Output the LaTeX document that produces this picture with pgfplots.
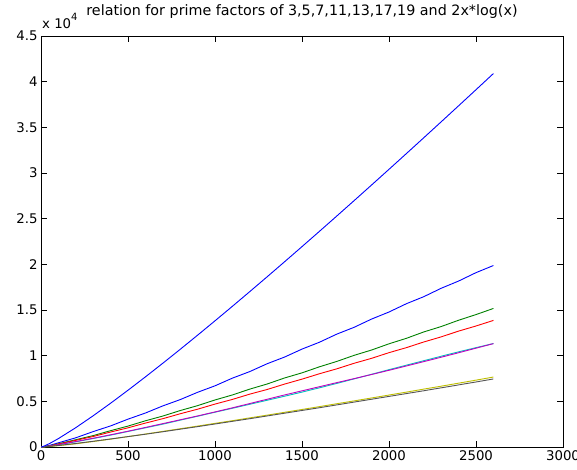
\documentclass[border=0pt]{standalone}
\usepackage{pgfplots}
\pgfplotsset{compat=1.18}
\usepackage{fontspec}
\setmainfont{DejaVu Sans}

% MATLAB default line colours
\definecolor{mblue}{rgb}{0,0,1}
\definecolor{mgreen}{rgb}{0,0.5,0}
\definecolor{mred}{rgb}{1,0,0}
\definecolor{mcyan}{rgb}{0,0.75,0.75}
\definecolor{mmag}{rgb}{0.75,0,0.75}
\definecolor{myel}{rgb}{0.75,0.75,0}
\definecolor{mblk}{rgb}{0.33,0.33,0.33}

\newcommand{\tickfont}{\fontsize{13.3}{15}\selectfont}

\begin{document}
\begin{tikzpicture}
\path[use as bounding box] (-41pt,-22.6pt) rectangle (536pt,447pt);
\begin{axis}[
  scale only axis,
  width=522pt, height=411pt,
  xmin=0, xmax=3000, ymin=0, ymax=45000,
  scaled x ticks=false, scaled y ticks=false,
  xtick={0,500,1000,1500,2000,2500,3000},
  xticklabels={0,500,1000,1500,2000,2500,3000},
  ytick={0,5000,10000,15000,20000,25000,30000,35000,40000,45000},
  yticklabels={0,0.5,1,1.5,2,2.5,3,3.5,4,4.5},
  tick align=inside,
  major tick length=6pt,
  tick style={black, line width=0.6pt},
  axis line style={black, line width=0.8pt},
  ticklabel style={font=\tickfont},
  title={relation for prime factors of 3,5,7,11,13,17,19 and 2x*log(x)},
  title style={font=\fontsize{14.3}{16}\selectfont, at={(0.5,1)}, anchor=base, yshift=14pt},
  every axis plot/.append style={line width=0.9pt},
]
% n = 3
\addplot[mblue] coordinates {(0,0)(50,180)(100,460)(200,1010)(300,1690)(400,2310)(500,3050)(600,3720)(700,4500)(800,5190)(900,5990)(1000,6700)(1100,7540)(1200,8260)(1300,9120)(1400,9850)(1500,10720)(1600,11470)(1700,12360)(1800,13110)(1900,14010)(2000,14780)(2100,15690)(2200,16460)(2300,17380)(2400,18170)(2500,19090)(2600,19870)};
% n = 5
\addplot[mgreen] coordinates {(0,0)(50,130)(100,350)(200,800)(300,1250)(400,1790)(500,2290)(600,2870)(700,3390)(800,3990)(900,4530)(1000,5150)(1100,5700)(1200,6340)(1300,6900)(1400,7560)(1500,8120)(1600,8780)(1700,9370)(1800,10040)(1900,10620)(2000,11300)(2100,11900)(2200,12600)(2300,13190)(2400,13880)(2500,14500)(2600,15170)};
% n = 7
\addplot[mred] coordinates {(0,0)(50,120)(100,320)(200,730)(300,1150)(400,1640)(500,2100)(600,2620)(700,3100)(800,3640)(900,4140)(1000,4700)(1100,5210)(1200,5790)(1300,6300)(1400,6890)(1500,7430)(1600,8020)(1700,8560)(1800,9170)(1900,9710)(2000,10330)(2100,10880)(2200,11500)(2300,12060)(2400,12690)(2500,13250)(2600,13860)};
% n = 11
\addplot[mcyan] coordinates {(0,0)(50,90)(100,240)(200,570)(300,930)(400,1300)(500,1700)(600,2100)(700,2500)(800,2940)(900,3370)(1000,3810)(1100,4240)(1200,4680)(1300,5120)(1400,5560)(1500,6010)(1600,6480)(1700,6960)(1800,7460)(1900,7960)(2000,8470)(2100,8960)(2200,9450)(2300,9940)(2400,10420)(2500,10880)(2600,11330)};
% n = 13
\addplot[mmag] coordinates {(0,0)(50,100)(100,260)(200,600)(300,960)(400,1340)(500,1730)(600,2140)(700,2560)(800,2980)(900,3400)(1000,3840)(1100,4290)(1200,4760)(1300,5230)(1400,5700)(1500,6150)(1600,6600)(1700,7050)(1800,7490)(1900,7940)(2000,8400)(2100,8870)(2200,9350)(2300,9830)(2400,10320)(2500,10820)(2600,11320)};
% n = 17
\addplot[myel] coordinates {(0,0)(50,50)(100,150)(200,350)(300,600)(400,860)(500,1140)(600,1420)(700,1710)(800,2000)(900,2290)(1000,2590)(1100,2880)(1200,3190)(1300,3490)(1400,3800)(1500,4110)(1600,4420)(1700,4740)(1800,5050)(1900,5370)(2000,5690)(2100,6010)(2200,6340)(2300,6660)(2400,6990)(2500,7320)(2600,7660)};
% n = 19
\addplot[mblk] coordinates {(0,0)(50,70)(100,170)(200,390)(300,630)(400,880)(500,1140)(600,1400)(700,1670)(800,1950)(900,2230)(1000,2520)(1100,2810)(1200,3100)(1300,3400)(1400,3700)(1500,4000)(1600,4300)(1700,4610)(1800,4920)(1900,5230)(2000,5540)(2100,5850)(2200,6160)(2300,6480)(2400,6800)(2500,7120)(2600,7450)};
% 2x*log(x)
\addplot[mblue] coordinates {(1,0)(10,46)(20,120)(50,391)(100,921)(200,2119)(300,3422)(400,4793)(500,6215)(600,7676)(700,9172)(800,10695)(900,12244)(1000,13816)(1100,15407)(1200,17016)(1300,18642)(1400,20284)(1500,21940)(1600,23609)(1700,25291)(1800,26984)(1900,28689)(2000,30404)(2100,32129)(2200,33863)(2300,35607)(2400,37359)(2500,39120)(2600,40889)};
\end{axis}
% scale factor of the y axis, above its top-left corner
\node[anchor=base west, inner sep=0pt, font=\tickfont] at (1pt,418pt) {x 10\raisebox{8pt}{\fontsize{10}{12}\selectfont 4}};
\end{tikzpicture}
\end{document}
